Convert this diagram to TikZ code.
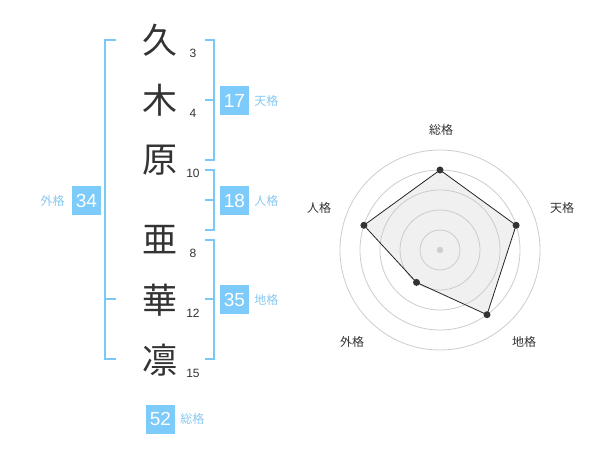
\documentclass[tikz,border=0pt]{standalone}
\usepackage{fontspec}
\setmainfont{Liberation Sans}
\newfontfamily\cjk{Noto Sans CJK JP}
\definecolor{brk}{RGB}{122,200,245}
\definecolor{boxc}{RGB}{124,203,250}
\definecolor{lbl}{RGB}{135,200,240}
\definecolor{ink}{RGB}{51,51,51}
\definecolor{ring}{RGB}{204,204,204}
\definecolor{area}{RGB}{240,240,240}
\tikzset{
  kanji/.style={font=\cjk\fontsize{35}{35}\selectfont, text=ink, inner sep=0pt},
  strokes/.style={font=\fontsize{12}{12}\selectfont, text=ink, inner sep=0pt},
  bracket/.style={draw=brk, line width=2pt},
  score/.style={fill=boxc, text=white, minimum size=29pt, inner sep=0pt, font=\fontsize{19}{19}\selectfont},
  kaku/.style={font=\cjk\fontsize{12}{12}\selectfont, text=lbl, inner sep=0pt},
  axislabel/.style={font=\cjk\fontsize{12}{12}\selectfont, text=ink, inner sep=0pt},
  ringline/.style={draw=ring, line width=0.8pt},
  datadot/.style={circle, fill=ink, minimum size=7pt, inner sep=0pt},
}
\begin{document}
\begin{tikzpicture}[x=1pt,y=-1pt]
\useasboundingbox (0,0) rectangle (600,470);
% kanji column
\node[kanji] (k1) at (160,40) {久};
\node[kanji] (k2) at (160,100) {木};
\node[kanji] (k3) at (160,160) {原};
\node[kanji] (k4) at (160,240) {亜};
\node[kanji] (k5) at (160,300) {華};
\node[kanji] (k6) at (160,360) {凛};
% stroke counts
\node[strokes] (s1) at (193,53) {3};
\node[strokes] (s2) at (193,113) {4};
\node[strokes] (s3) at (193,173) {10};
\node[strokes] (s4) at (193,253) {8};
\node[strokes] (s5) at (193,313) {12};
\node[strokes] (s6) at (193,373) {15};
% brackets
\draw[bracket] (116,40) -- (105,40) -- (105,359) -- (116,359);
\draw[bracket] (105,299) -- (116,299);
\draw[bracket] (205,40) -- (214,40) -- (214,160) -- (205,160);
\draw[bracket] (214,100) -- (205,100);
\draw[bracket] (205,170) -- (214,170) -- (214,230) -- (205,230);
\draw[bracket] (214,200) -- (205,200);
\draw[bracket] (205,240) -- (214,240) -- (214,359) -- (205,359);
\draw[bracket] (214,299) -- (205,299);
% score boxes
\node[score] (ten) at (234.5,100.5) {17};
\node[kaku, anchor=west] (tenl) at ([xshift=5pt]ten.east) {天格};
\node[score] (jin) at (234.5,200.5) {18};
\node[kaku, anchor=west] (jinl) at ([xshift=5pt]jin.east) {人格};
\node[score] (chi) at (234.5,300) {35};
\node[kaku, anchor=west] (chil) at ([xshift=5pt]chi.east) {地格};
\node[score] (gai) at (86.5,200.5) {34};
\node[kaku, anchor=east] (gail) at ([xshift=-7pt]gai.west) {外格};
\node[score] (sou) at (160.5,419) {52};
\node[kaku, anchor=west] (soul) at ([xshift=5pt]sou.east) {総格};
% radar chart
\coordinate (c) at (440,250);
\coordinate (pS) at (440,170);
\coordinate (pT) at (516.1,225.3);
\coordinate (pC) at (487.0,314.7);
\coordinate (pG) at (416.5,282.4);
\coordinate (pJ) at (363.9,225.3);
\fill[area] (pS) -- (pT) -- (pC) -- (pG) -- (pJ) -- cycle;
\foreach \r in {20,40,60,80,100} \draw[ringline] (c) circle[radius=\r];
\fill[ring] (c) circle[radius=3.2];
\draw[ink!70!black, line width=0.8pt] (pS) -- (pT) -- (pC) -- (pG) -- (pJ) -- cycle;
\node[datadot] (dS) at (pS) {};
\node[datadot] (dT) at (pT) {};
\node[datadot] (dC) at (pC) {};
\node[datadot] (dG) at (pG) {};
\node[datadot] (dJ) at (pJ) {};
\node[axislabel] (lS) at (441,130) {総格};
\node[axislabel] (lT) at (562,208) {天格};
\node[axislabel] (lC) at (524,342) {地格};
\node[axislabel] (lG) at (352,342) {外格};
\node[axislabel] (lJ) at (319,208) {人格};
\end{tikzpicture}
\end{document}
